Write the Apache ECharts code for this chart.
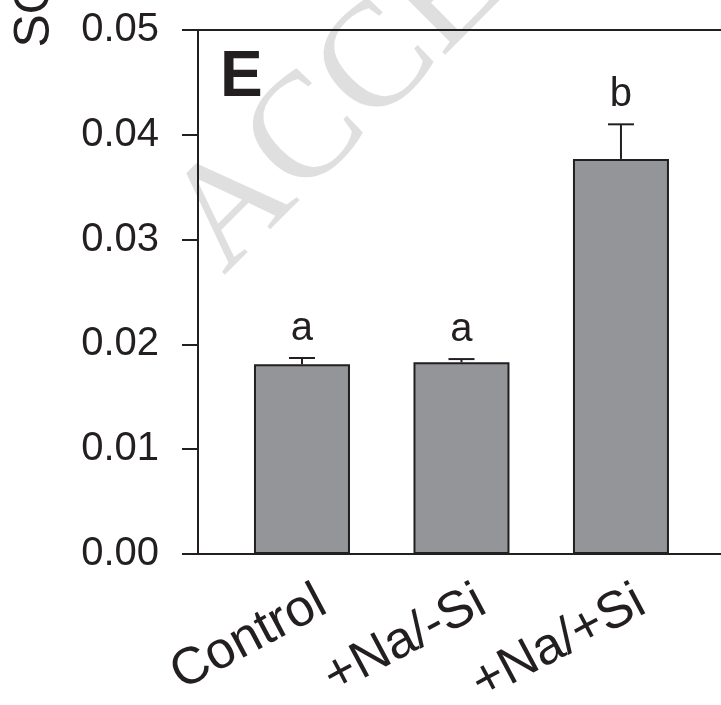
<!DOCTYPE html>
<html>
<head>
<meta charset="utf-8">
<script src="https://cdn.jsdelivr.net/npm/echarts@6/dist/echarts.min.js"></script>
<style>
  html, body { margin: 0; padding: 0; background: #ffffff; }
  #chart { width: 721px; height: 705px; }
</style>
</head>
<body>
<div id="chart"></div>
<script>
// Treatment groups and measured values (mean, upper standard error)
const categories = ['Control', '+Na/-Si', '+Na/+Si'];
const means = [0.0181, 0.0183, 0.0377];
const errors = [0.0006, 0.0003, 0.0033];
const letters = ['a', 'a', 'b'];
const yMin = 0;
const yMax = 0.05;
const yStep = 0.01;

const ink = '#231f20';
const barFill = '#939598';
const sans = '"Liberation Sans", Arial, sans-serif';

// bar positions on the numeric x scale
const positions = categories.map((c, i) => i + 1);
// slanted category labels sit a little right of each bar centre
const labelShift = 0.13;

const chart = echarts.init(document.getElementById('chart'), null, { renderer: 'canvas' });

const xRange = { min: 0.348, max: 3.878 };

const option = {
  backgroundColor: '#ffffff',
  animation: false,
  grid: {
    left: 198,
    top: 30,
    right: -40,
    bottom: 151,
    containLabel: false,
    outerBoundsMode: 'none'
  },
  xAxis: [
    {
      type: 'value',
      min: xRange.min,
      max: xRange.max,
      position: 'bottom',
      splitLine: { show: false },
      axisLine: { show: true, onZero: false, lineStyle: { color: ink, width: 2 } },
      axisTick: { show: false },
      axisLabel: {
        customValues: positions.map((p) => p + labelShift),
        formatter: (v) => categories[Math.round(v - labelShift) - 1] || '',
        rotate: 28,
        margin: 45,
        color: ink,
        fontFamily: sans,
        fontSize: 52
      }
    },
    {
      type: 'value',
      min: xRange.min,
      max: xRange.max,
      position: 'top',
      splitLine: { show: false },
      axisLine: { show: true, onZero: false, lineStyle: { color: ink, width: 2 } },
      axisTick: { show: false },
      axisLabel: { show: false }
    }
  ],
  yAxis: {
    type: 'value',
    min: yMin,
    max: yMax,
    interval: yStep,
    splitLine: { show: false },
    axisLine: { show: true, lineStyle: { color: ink, width: 2 } },
    axisTick: { show: true, inside: false, length: 16, lineStyle: { color: ink, width: 2 } },
    axisLabel: {
      margin: 39,
      color: ink,
      fontFamily: sans,
      fontSize: 40,
      formatter: (v) => v.toFixed(2)
    }
  },
  graphic: [
    {
      type: 'text',
      x: 196,
      y: 248,
      rotation: Math.PI / 4,
      z: -10,
      silent: true,
      style: {
        text: 'ACCEPTED MANUSCRIPT',
        font: '150px "Liberation Serif", "Times New Roman", serif',
        fill: '#dfdfdf',
        align: 'left',
        verticalAlign: 'middle'
      }
    },
    {
      type: 'text',
      x: 220,
      y: 78.8,
      z: 10,
      style: {
        text: 'E',
        font: 'bold 64px ' + sans,
        fill: ink,
        align: 'left',
        verticalAlign: 'middle'
      }
    },
    {
      type: 'text',
      x: 35,
      y: 47.5,
      rotation: Math.PI / 2,
      z: 10,
      style: {
        text: 'SO',
        font: '50px ' + sans,
        fill: ink,
        align: 'left',
        verticalAlign: 'middle'
      }
    }
  ],
  series: [
    {
      type: 'bar',
      xAxisIndex: 0,
      barWidth: 96,
      z: 2,
      itemStyle: { color: barFill, borderColor: ink, borderWidth: 2 },
      data: means.map((v, i) => [positions[i], v])
    },
    {
      // upper error bars with the significance letters above them
      type: 'custom',
      xAxisIndex: 0,
      z: 3,
      data: means.map((v, i) => [positions[i], v, errors[i]]),
      renderItem: (params, api) => {
        const x = api.value(0);
        const m = api.value(1);
        const e = api.value(2);
        const base = api.coord([x, m]);
        const top = api.coord([x, m + e]);
        const lineStyle = { stroke: ink, lineWidth: 2 };
        return {
          type: 'group',
          children: [
            { type: 'line', shape: { x1: base[0], y1: base[1], x2: top[0], y2: top[1] }, style: lineStyle },
            { type: 'line', shape: { x1: top[0] - 13, y1: top[1], x2: top[0] + 13, y2: top[1] }, style: lineStyle },
            {
              type: 'text',
              x: top[0],
              y: top[1] - 29,
              style: {
                text: letters[params.dataIndex],
                font: '40px ' + sans,
                fill: ink,
                align: 'center',
                verticalAlign: 'middle'
              }
            }
          ]
        };
      }
    }
  ]
};

chart.setOption(option);
</script>
</body>
</html>
